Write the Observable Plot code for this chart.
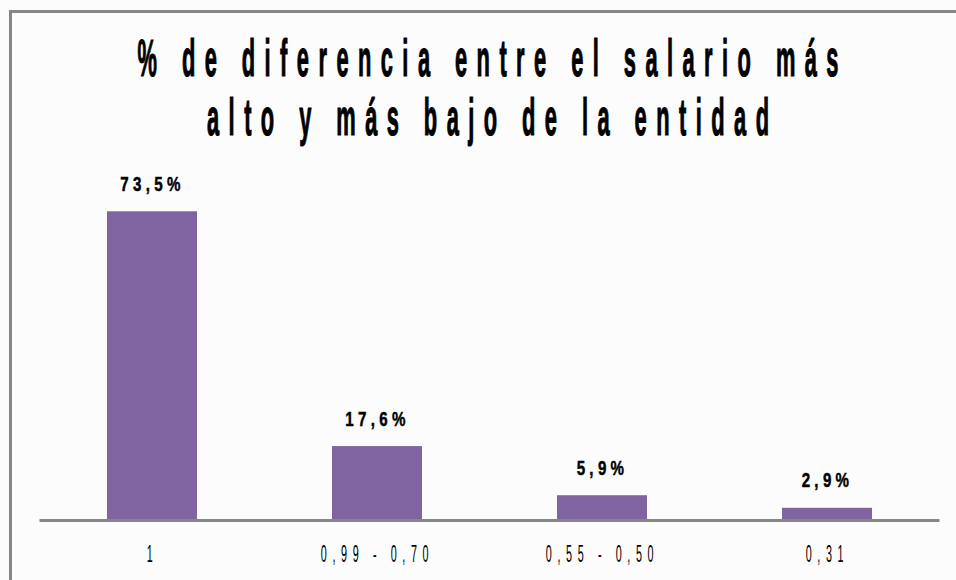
<!DOCTYPE html>
<html>
<head>
<meta charset="utf-8">
<script src="https://cdn.jsdelivr.net/npm/d3@7"></script>
<script src="https://cdn.jsdelivr.net/npm/@observablehq/plot@0.6"></script>
<style>
  body { margin: 0; background: #fcfcfc; }
  #wrap { position: relative; width: 956px; height: 580px; overflow: hidden; background: #fcfcfc; }
  #frame { position: absolute; left: 9px; top: 10px; width: 960px; height: 600px;
           border-top: 3px solid #878787; border-left: 3px solid #878787; }
  #title { position: absolute; top: 29px; left: 0; width: 956px; height: 120px;
           font-family: "Liberation Sans", Arial, sans-serif; font-weight: bold;
           font-size: 52px; line-height: 59px; color: #000; }
  #title .line { position: relative; height: 59px; }
  #title .line span { position: absolute; left: 487.5px; top: 0; white-space: pre;
           transform: translateX(-50%) scaleX(0.42); transform-origin: center;
           letter-spacing: 22.5px; padding-left: 22.5px; -webkit-text-stroke: 1.2px #000; }
  #chart { position: absolute; left: 0; top: 160px; }
  #chart svg { background: transparent; }
</style>
</head>
<body>
<div id="wrap">
  <div id="frame"></div>
  <div id="title"></div>
  <div id="chart"></div>
</div>
<script>
// ---- data ----
const titleLines = ["% de diferencia entre el salario más", "alto y más bajo de la entidad"];
const categories = ["1", "0,99 - 0,70", "0,55 - 0,50", "0,31"];
const values = [73.5, 17.6, 5.9, 2.9];
const valueLabels = ["73,5%", "17,6%", "5,9%", "2,9%"];

// ---- title ----
const titleEl = document.getElementById("title");
titleLines.forEach(t => {
  const line = document.createElement("div");
  line.className = "line";
  const s = document.createElement("span");
  s.textContent = t;
  line.appendChild(s);
  titleEl.appendChild(line);
});

// ---- chart ----
const data = categories.map((c, i) => ({cat: c, value: values[i], label: valueLabels[i]}));

const chart = Plot.plot({
  width: 956,
  height: 420,
  marginTop: 24,
  marginBottom: 60,
  marginLeft: 39.5,
  marginRight: 16.5,
  style: {
    fontFamily: "'Liberation Sans', Arial, sans-serif",
    fontSize: "24px",
    color: "#000",
    background: "transparent"
  },
  x: {domain: categories, paddingInner: 0.6, paddingOuter: 0.3, tickSize: 0, tickPadding: 24, label: null},
  y: {domain: [0, 80], axis: null},
  marks: [
    Plot.barY(data, {x: "cat", y: "value", fill: "#8064A2"}),
    Plot.ruleY([0], {stroke: "#878787", strokeWidth: 3}),
    Plot.text(data, {x: "cat", y: "value", text: "label", lineAnchor: "bottom", dy: -21,
                     fontSize: 21, fontWeight: "bold", fill: "#000"})
  ]
});
document.getElementById("chart").appendChild(chart);

// condensed, letter-spaced text rendering
chart.querySelectorAll('g[aria-label="x-axis tick label"] text').forEach(t => {
  const tr = t.getAttribute("transform") || "";
  t.setAttribute("transform", tr + " scale(0.45,1)");
  t.style.letterSpacing = "12.5px";
  t.setAttribute("fill", "#000");
});
chart.querySelectorAll('g[aria-label="text"] text').forEach(t => {
  const tr = t.getAttribute("transform") || "";
  t.setAttribute("transform", tr + " scale(0.72,1)");
  t.style.letterSpacing = "6px";
  t.style.stroke = "#000";
  t.style.strokeWidth = "0.5px";
});
</script>
</body>
</html>
